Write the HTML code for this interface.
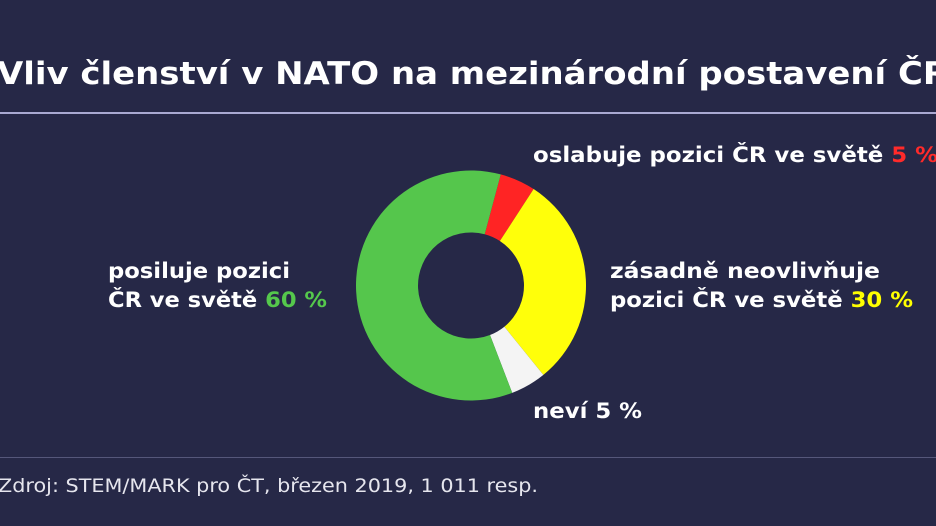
<!DOCTYPE html>
<html><head><meta charset="utf-8"><style>
html,body{margin:0;padding:0;background:#262847;}
svg{display:block;}
text{font-family:"DejaVu Sans","Liberation Sans",sans-serif;}
</style></head><body>
<svg width="936" height="526" viewBox="0 0 936 526">
<rect width="936" height="526" fill="#262847"/>
<text x="-3" y="84" font-size="31" font-weight="bold" fill="#fff" textLength="952" lengthAdjust="spacingAndGlyphs">Vliv členství v NATO na mezinárodní postavení ČR</text>
<rect x="0" y="112" width="936" height="2" fill="#a9a9d2"/>
<g id="donut"></g>
<text x="533" y="162" font-size="21" font-weight="bold" fill="#fff" textLength="405" lengthAdjust="spacingAndGlyphs">oslabuje pozici ČR ve světě <tspan fill="#ff2a2a">5 %</tspan></text>
<text x="108" y="278" font-size="21" font-weight="bold" fill="#fff" textLength="182" lengthAdjust="spacingAndGlyphs">posiluje pozici</text>
<text x="108" y="307" font-size="21" font-weight="bold" fill="#fff" textLength="219" lengthAdjust="spacingAndGlyphs">ČR ve světě <tspan fill="#55c84c">60 %</tspan></text>
<text x="610" y="278" font-size="21" font-weight="bold" fill="#fff" textLength="270" lengthAdjust="spacingAndGlyphs">zásadně neovlivňuje</text>
<text x="610" y="307" font-size="21" font-weight="bold" fill="#fff" textLength="303" lengthAdjust="spacingAndGlyphs">pozici ČR ve světě <tspan fill="#ffff00">30 %</tspan></text>
<text x="533" y="418" font-size="21" font-weight="bold" fill="#fff" textLength="109" lengthAdjust="spacingAndGlyphs">neví 5 %</text>
<rect x="0" y="457" width="936" height="1" fill="#55577a"/>
<text x="-2" y="492" font-size="19" fill="#e6e6ee" textLength="540" lengthAdjust="spacingAndGlyphs">Zdroj: STEM/MARK pro ČT, březen 2019, 1 011 resp.</text>
</svg>
<script>
const categories = ["oslabuje", "neovlivnuje", "nevi", "posiluje"];
const values = [5, 30, 5, 60];
const colors = ["#ff2424", "#ffff0a", "#f4f4f4", "#55c64c"];
const cx = 471, cy = 285.5, R = 115, r = 53, startDeg = 15;
const g = document.getElementById('donut');
const total = values.reduce((a,b)=>a+b,0);
let a0 = startDeg;
function pt(rad, deg){const t=deg*Math.PI/180;return [cx+rad*Math.sin(t), cy-rad*Math.cos(t)];}
values.forEach((v,i)=>{
  const a1 = a0 + v/total*360;
  const large = (a1-a0)>180?1:0;
  const [x0,y0]=pt(R,a0),[x1,y1]=pt(R,a1),[x2,y2]=pt(r,a1),[x3,y3]=pt(r,a0);
  const p=document.createElementNS('http://www.w3.org/2000/svg','path');
  p.setAttribute('d',`M${x0},${y0}A${R},${R} 0 ${large} 1 ${x1},${y1}L${x2},${y2}A${r},${r} 0 ${large} 0 ${x3},${y3}Z`);
  p.setAttribute('fill',colors[i]);
  
  
  g.appendChild(p);
  a0 = a1;
});
</script>
</body></html>
